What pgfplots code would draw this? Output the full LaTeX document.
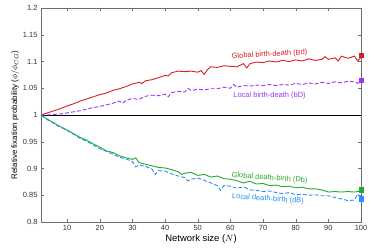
\documentclass[border=0pt]{standalone}
\usepackage{fontspec}
\setmainfont{Liberation Sans}
\usepackage{pgfplots}
\pgfplotsset{compat=1.18}
\definecolor{cBd}{RGB}{215,30,35}
\definecolor{cbD}{RGB}{150,55,250}
\definecolor{cDb}{RGB}{35,170,45}
\definecolor{cdB}{RGB}{35,145,250}
\definecolor{axgray}{RGB}{110,110,110}
\begin{document}
\begin{tikzpicture}
\begin{axis}[
  scale only axis, width=320bp, height=214bp,
  xmin=2, xmax=100, ymin=0.8, ymax=1.2,
  xtick={10,20,...,100}, ytick={0.8,0.85,...,1.21},
  yticklabels={0.8,0.85,0.9,0.95,1,1.05,1.1,1.15,1.2},
  tick align=inside, major tick length=3bp,
  axis line style={axgray, line width=0.6pt},
  tick style={axgray},
  ticklabel style={font=\fontsize{7.5}{9}\selectfont, text=black!80},
  /pgf/number format/assume math mode=true,
  xlabel={Network size ($N$)},
  ylabel={Relative fixation probability ($\phi/\phi_{CG}$)},
  label style={font=\fontsize{8}{10}\selectfont},
  xlabel style={font=\fontsize{9.5}{11}\selectfont, yshift=3bp},
  ylabel style={yshift=-3bp},
  clip=false,
]
\coordinate (sw) at (rel axis cs:0,0);
\coordinate (ne) at (rel axis cs:1,1);
\addplot[black, line width=0.8pt, forget plot] coordinates {(2,1) (100,1)};
% Global birth-death (Bd)
\addplot[cBd, line width=0.9pt] coordinates {
(2,1.000)(4,1.004)(6,1.008)(8,1.012)(10,1.017)(12,1.021)(14,1.026)(16,1.030)(18,1.034)(20,1.038)
(22,1.041)(24,1.046)(26,1.049)(28,1.053)(30,1.058)(32,1.061)(33,1.059)(34,1.064)(36,1.066)(38,1.070)
(40,1.074)(41,1.073)(42,1.079)(44,1.082)(46,1.081)(48,1.082)(50,1.080)(51,1.083)(52,1.076)(53,1.085)
(54,1.090)(56,1.089)(58,1.092)(60,1.091)(62,1.090)(64,1.096)(65,1.088)(66,1.096)(68,1.099)(70,1.098)
(72,1.101)(74,1.099)(76,1.102)(78,1.100)(80,1.103)(82,1.101)(84,1.105)(86,1.102)(88,1.104)(89,1.109)
(90,1.104)(92,1.107)(93,1.101)(94,1.110)(96,1.106)(98,1.110)(99,1.101)(100,1.108)};
% Local birth-death (bD)
\addplot[cbD, line width=0.9pt, dash pattern=on 4bp off 2bp] coordinates {
(2,1.000)(4,1.000)(6,1.001)(8,1.002)(10,1.004)(12,1.006)(14,1.008)(16,1.011)(18,1.014)(20,1.016)
(22,1.019)(24,1.022)(26,1.026)(27,1.022)(28,1.027)(30,1.031)(32,1.029)(34,1.035)(36,1.037)(38,1.036)
(40,1.039)(41,1.034)(42,1.042)(44,1.044)(46,1.043)(47,1.050)(48,1.046)(50,1.048)(52,1.047)(54,1.049)
(56,1.049)(58,1.052)(60,1.050)(61,1.057)(62,1.052)(64,1.055)(66,1.054)(68,1.056)(70,1.055)(72,1.057)
(74,1.055)(76,1.057)(78,1.056)(80,1.059)(82,1.057)(84,1.060)(86,1.058)(88,1.061)(90,1.059)(92,1.062)
(94,1.060)(96,1.063)(98,1.062)(99,1.059)(100,1.064)};
% Global death-birth (Db)
\addplot[cDb, line width=0.9pt] coordinates {
(2,1.000)(4,0.992)(6,0.985)(8,0.978)(10,0.972)(12,0.965)(14,0.958)(16,0.953)(18,0.946)(20,0.940)
(22,0.933)(24,0.930)(26,0.924)(28,0.920)(30,0.917)(31,0.920)(32,0.911)(34,0.908)(36,0.905)(38,0.902)
(40,0.901)(42,0.898)(44,0.894)(45,0.889)(46,0.891)(48,0.893)(50,0.887)(52,0.889)(54,0.884)(56,0.886)
(58,0.881)(60,0.880)(62,0.877)(64,0.873)(66,0.876)(68,0.871)(70,0.872)(72,0.868)(74,0.869)(76,0.866)
(78,0.867)(80,0.864)(82,0.865)(84,0.862)(86,0.862)(88,0.860)(90,0.856)(92,0.857)(94,0.856)(96,0.857)
(98,0.856)(100,0.858)};
% Local death-birth (dB)
\addplot[cdB, line width=0.9pt, dash pattern=on 4bp off 2bp] coordinates {
(2,1.000)(4,0.991)(6,0.984)(8,0.977)(10,0.971)(12,0.964)(14,0.956)(16,0.951)(18,0.944)(20,0.937)
(22,0.932)(24,0.927)(26,0.921)(28,0.918)(30,0.913)(31,0.903)(32,0.907)(34,0.904)(36,0.899)(37,0.889)
(38,0.896)(40,0.895)(42,0.890)(44,0.886)(46,0.883)(47,0.877)(48,0.880)(50,0.882)(52,0.878)(54,0.873)
(56,0.868)(57,0.859)(58,0.868)(60,0.867)(62,0.863)(64,0.866)(66,0.860)(68,0.859)(70,0.857)(72,0.858)
(74,0.855)(76,0.853)(78,0.855)(80,0.851)(82,0.852)(84,0.850)(86,0.851)(88,0.849)(90,0.849)(92,0.846)
(94,0.843)(96,0.840)(98,0.841)(99,0.852)(100,0.847)};
% end markers
\addplot[only marks, mark=square*, mark size=2.3bp, cBd] coordinates {(100,1.112)};
\addplot[only marks, mark=square*, mark size=2.3bp, cbD] coordinates {(100,1.065)};
\addplot[only marks, mark=square*, mark size=2.3bp, cDb] coordinates {(100,0.860)};
\addplot[only marks, mark=square*, mark size=2.3bp, cdB] coordinates {(100,0.844)};
\node[cBd, font=\fontsize{7.5}{9}\selectfont, rotate=3] at (axis cs:72,1.113) {Global birth-death (Bd)};
\node[cbD, font=\fontsize{7.5}{9}\selectfont] at (axis cs:72,1.036) {Local birth-death (bD)};
\node[cDb, font=\fontsize{7.5}{9}\selectfont, rotate=-4] at (axis cs:72,0.882) {Global death-birth (Db)};
\node[cdB, font=\fontsize{7.5}{9}\selectfont, rotate=-4] at (axis cs:71.5,0.843) {Local death-birth (dB)};
\end{axis}
\pgfresetboundingbox
\path (sw) +(-41bp,-28bp) (ne) +(13bp,8bp);
\end{tikzpicture}
\end{document}
